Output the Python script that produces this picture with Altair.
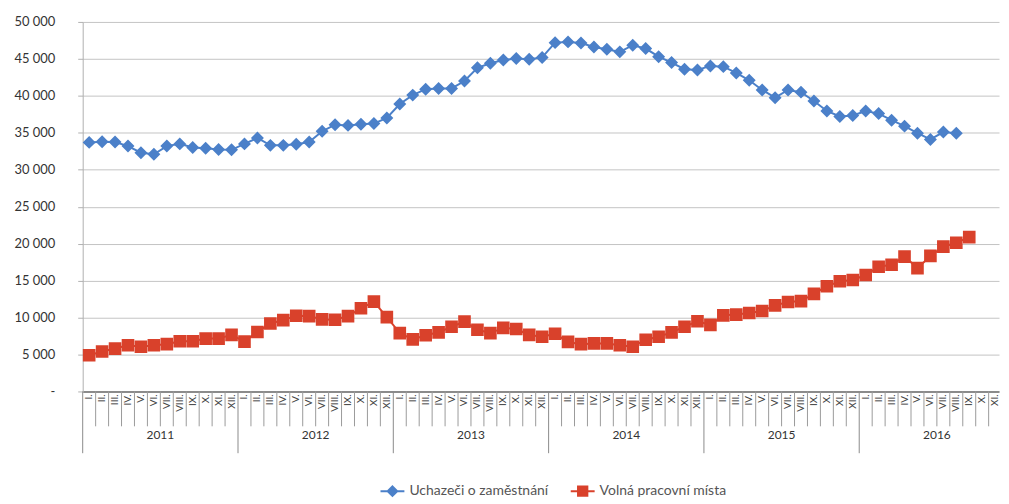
import altair as alt
import pandas as pd

# ---- data ----
years = ["2011", "2012", "2013", "2014", "2015", "2016"]
roman = ["I.", "II.", "III.", "IV.", "V.", "VI.", "VII.", "VIII.", "IX.", "X.", "XI.", "XII."]
series_names = ["Uchazeči o zaměstnání", "Volná pracovní místa"]

# monthly values from 2011 I.
uchazeci = [33700, 33800, 33750, 33200, 32300, 32100, 33200, 33500, 33000, 32900, 32750, 32700,
            33500, 34300, 33300, 33300, 33450, 33750, 35200, 36100, 36000, 36150, 36250, 37000,
            38900, 40100, 40900, 41000, 41000, 42000, 43800, 44400, 44850, 45050, 44950, 45200,
            47200, 47300, 47150, 46600, 46300, 45950, 46850, 46400, 45300, 44500, 43600, 43500,
            44050, 43950, 43100, 42100, 40800, 39750, 40800, 40500, 39300, 37950, 37200, 37350,
            37950, 37600, 36700, 35900, 34950, 34100, 35100, 34950]
volna = [4900, 5400, 5800, 6250, 6050, 6250, 6400, 6800, 6800, 7150, 7150, 7650,
         6750, 8050, 9200, 9650, 10250, 10200, 9750, 9700, 10200, 11250, 12150, 10050,
         7900, 7050, 7600, 8000, 8750, 9450, 8350, 7900, 8600, 8450, 7650, 7400,
         7800, 6700, 6400, 6500, 6500, 6250, 6050, 7000, 7400, 8000, 8750, 9500,
         9000, 10300, 10400, 10620, 10890, 11650, 12100, 12230, 13210, 14240, 14910, 15080,
         15750, 16870, 17140, 18250, 16690, 18340, 19590, 20120, 20880]

W, H = 920, 371
X_MAX = 70.8
N_LABELS = 71

rows = []
for i, v in enumerate(uchazeci):
    rows.append({"pos": i + 0.5, "value": v, "series": series_names[0]})
for i, v in enumerate(volna):
    rows.append({"pos": i + 0.5, "value": v, "series": series_names[1]})
df = pd.DataFrame(rows)

month_df = pd.DataFrame({"pos": [i + 0.5 for i in range(N_LABELS)],
                         "label": [roman[i % 12] for i in range(N_LABELS)]})
year_df = pd.DataFrame({"pos": [i * 12 + 6 for i in range(len(years))], "label": years})
sep_month = pd.DataFrame({"pos": [i for i in range(1, N_LABELS) if i % 12 != 0]})
sep_year = pd.DataFrame({"pos": [i * 12 for i in range(len(years))]})

BLUE = "#4b80c9"
RED = "#d9412b"
diamond_path = "M-1,0L1,0M0,-0.4L0.4,0L0,0.4L-0.4,0Z"
square_path = "M-1,0L1,0M-0.39,-0.39L0.39,-0.39L0.39,0.39L-0.39,0.39Z"

xscale = alt.Scale(domain=[0, X_MAX], nice=False, zero=False)
yscale = alt.Scale(domain=[0, 50000], nice=False)
colorscale = alt.Scale(domain=series_names, range=[BLUE, RED])
shapescale = alt.Scale(domain=series_names, range=[diamond_path, square_path])

x_enc = alt.X("pos:Q", scale=xscale,
              axis=alt.Axis(labels=False, ticks=False, grid=False, title=None,
                            domainColor="#6e6e6e", domainWidth=1.5))
y_enc = alt.Y("value:Q", scale=yscale,
              axis=alt.Axis(values=list(range(0, 50001, 5000)), title=None,
                            labelExpr="datum.value == 0 ? '-\u00a0\u00a0\u00a0' : replace(format(datum.value, ','), ',', ' ')",
                            grid=True, gridColor="#c4c4c4", gridWidth=1,
                            domainColor="#b0b0b0", tickColor="#b0b0b0", tickSize=5,
                            labelPadding=23, labelFont="Lato", labelFontSize=13,
                            labelColor="#333333"))

legend = alt.Legend(title=None, orient="none", legendX=298, legendY=458,
                    direction="horizontal", symbolSize=576, symbolStrokeWidth=2,
                    labelFont="Lato", labelFontSize=14, labelColor="#555555",
                    columnPadding=18, labelOffset=4)

rules_m = alt.Chart(sep_month).mark_rule(color="#9a9a9a", strokeWidth=1).encode(
    x=x_enc, y=alt.value(H), y2=alt.value(H + 35))
rules_y = alt.Chart(sep_year).mark_rule(color="#8a8a8a", strokeWidth=1).encode(
    x=x_enc, y=alt.value(H), y2=alt.value(H + 62))
months_t = alt.Chart(month_df).mark_text(angle=270, align="right", baseline="middle",
                                          font="Lato", fontSize=10, color="#444444").encode(
    x=x_enc, y=alt.value(H + 3), text="label:N")
years_t = alt.Chart(year_df).mark_text(baseline="middle", font="Lato", fontSize=12,
                                        color="#333333").encode(
    x=x_enc, y=alt.value(H + 44), text="label:N")

line_b = alt.Chart(df).transform_filter(alt.datum.series == series_names[0]).mark_line(
    strokeWidth=2, color=BLUE).encode(x=x_enc, y=y_enc)
line_r = alt.Chart(df).transform_filter(alt.datum.series == series_names[1]).mark_line(
    strokeWidth=2, color=RED).encode(x=x_enc, y=y_enc)
points = alt.Chart(df).mark_point(filled=True, size=1056, opacity=1, strokeWidth=0).encode(
    x=x_enc, y=y_enc,
    color=alt.Color("series:N", scale=colorscale, legend=legend),
    stroke=alt.Stroke("series:N", scale=colorscale, legend=legend),
    shape=alt.Shape("series:N", scale=shapescale, legend=legend))

chart = alt.layer(rules_m, rules_y, months_t, years_t, line_b, line_r, points).properties(
    width=W, height=H, padding={"left": 5, "top": 7, "right": 0, "bottom": 0}
).configure_view(strokeWidth=0)

chart.save("out.html", embed_options={"renderer": "svg", "actions": False})
